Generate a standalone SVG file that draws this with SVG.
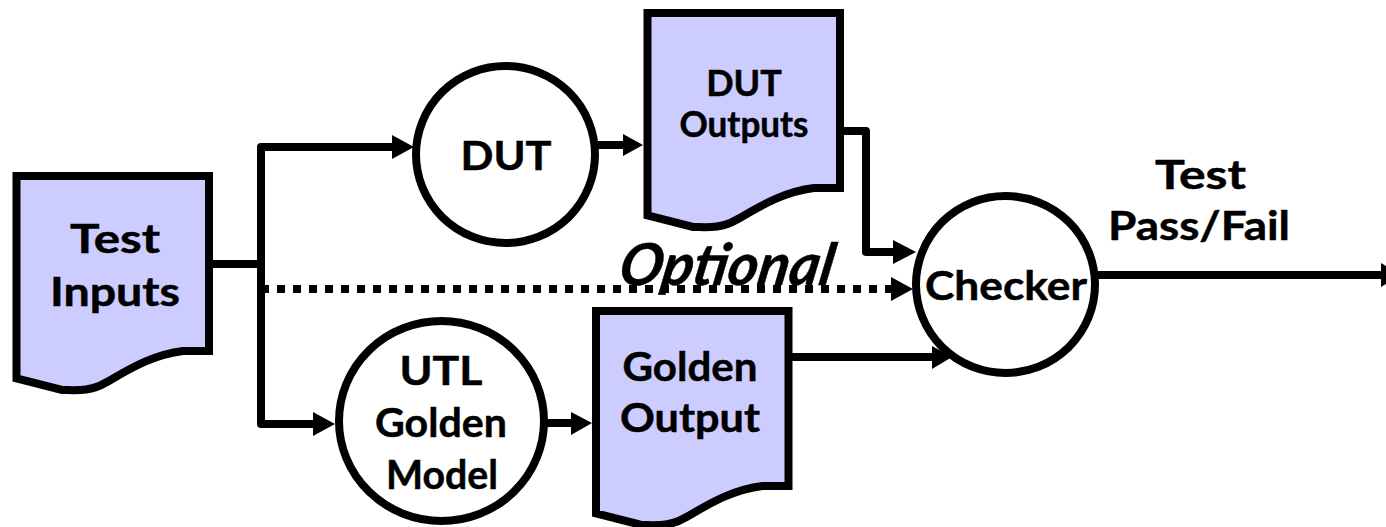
<svg xmlns="http://www.w3.org/2000/svg" width="1386" height="527" viewBox="0 0 1386 527">
<style>
.doc{fill:#ccccff;stroke:#000;stroke-width:8;stroke-linejoin:miter}
.circ{fill:#fff;stroke:#000;stroke-width:8}
.con{fill:none;stroke:#000;stroke-width:8;stroke-linejoin:round}
.dot{fill:none;stroke:#000;stroke-width:8;stroke-dasharray:8 8}
.head{fill:#000}
text{font-family:"Lato","Open Sans","DejaVu Sans",sans-serif;font-weight:700;fill:#000;text-anchor:middle;stroke:#000;stroke-width:.5}
.t{font-size:41px}
.s{font-size:36px}
</style>
<defs>
<path id="docshape" d="M16.5,176H209V351H183C150,355 125,372 105,383C90,392 75,390 62,390L16.5,378.500Z"/>
</defs>
<g id="connectors">
<path class="con" d="M213,264H261"/>
<path class="con" d="M394,147H261V424H316"/>
<path class="dot" d="M261,289H892"/>
<path class="con" d="M590,145H625"/>
<path class="con" d="M844,131H866V252H895"/>
<path class="con" d="M788,357H935"/>
<path class="con" d="M540,423H574"/>
<path class="con" d="M1095,275H1383"/>
<polygon class="head" points="414,147 392,135 392,159"/>
<polygon class="head" points="335,424 313,412 313,436"/>
<polygon class="head" points="643,145 623,134 623,156"/>
<polygon class="head" points="916,252 893,240 893,264"/>
<polygon class="head" points="913,289 891,277 891,301"/>
<polygon class="head" points="952,357 932,346 932,369"/>
<polygon class="head" points="592,423 571,412 571,435"/>
<polygon class="head" points="1381,263 1386,266 1386,284 1381,287"/>
</g>
<g id="test-inputs"><use href="#docshape" class="doc"/><text class="t" x="115" y="253" textLength="90" lengthAdjust="spacingAndGlyphs">Test</text><text class="t" x="115" y="306" textLength="130" lengthAdjust="spacingAndGlyphs">Inputs</text></g>
<g id="dut"><ellipse class="circ" cx="505.500" cy="154.500" rx="89.500" ry="88.500"/><text class="t" x="506" y="170" textLength="91" lengthAdjust="spacingAndGlyphs">DUT</text></g>
<g id="dut-outputs"><use href="#docshape" class="doc" x="631" y="-163"/><text class="s" x="744" y="96">DUT</text><text class="s" x="744" y="137" textLength="129" lengthAdjust="spacingAndGlyphs">Outputs</text></g>
<g id="utl-golden-model"><ellipse class="circ" cx="441.500" cy="421" rx="102.500" ry="100"/><text class="t" x="441" y="385" textLength="83" lengthAdjust="spacingAndGlyphs">UTL</text><text class="t" x="441" y="437" textLength="132" lengthAdjust="spacingAndGlyphs">Golden</text><text class="t" x="442" y="489" textLength="112" lengthAdjust="spacingAndGlyphs">Model</text></g>
<g id="golden-output"><use href="#docshape" class="doc" x="579.500" y="135"/><text class="t" x="690" y="381" textLength="135" lengthAdjust="spacingAndGlyphs">Golden</text><text class="t" x="690" y="432" textLength="140" lengthAdjust="spacingAndGlyphs">Output</text></g>
<g id="checker"><ellipse class="circ" cx="1005.500" cy="284.500" rx="89.500" ry="88.500"/><text class="t" x="1006" y="300" textLength="162" lengthAdjust="spacingAndGlyphs">Checker</text></g>
<text class="t" x="1200.500" y="189" textLength="91" lengthAdjust="spacingAndGlyphs">Test</text>
<text class="t" x="1199" y="240" textLength="182" lengthAdjust="spacingAndGlyphs">Pass/Fail</text>
<text transform="translate(724 285) skewX(-10)" font-size="58" font-style="italic" textLength="214" lengthAdjust="spacingAndGlyphs">Optional</text>
</svg>
